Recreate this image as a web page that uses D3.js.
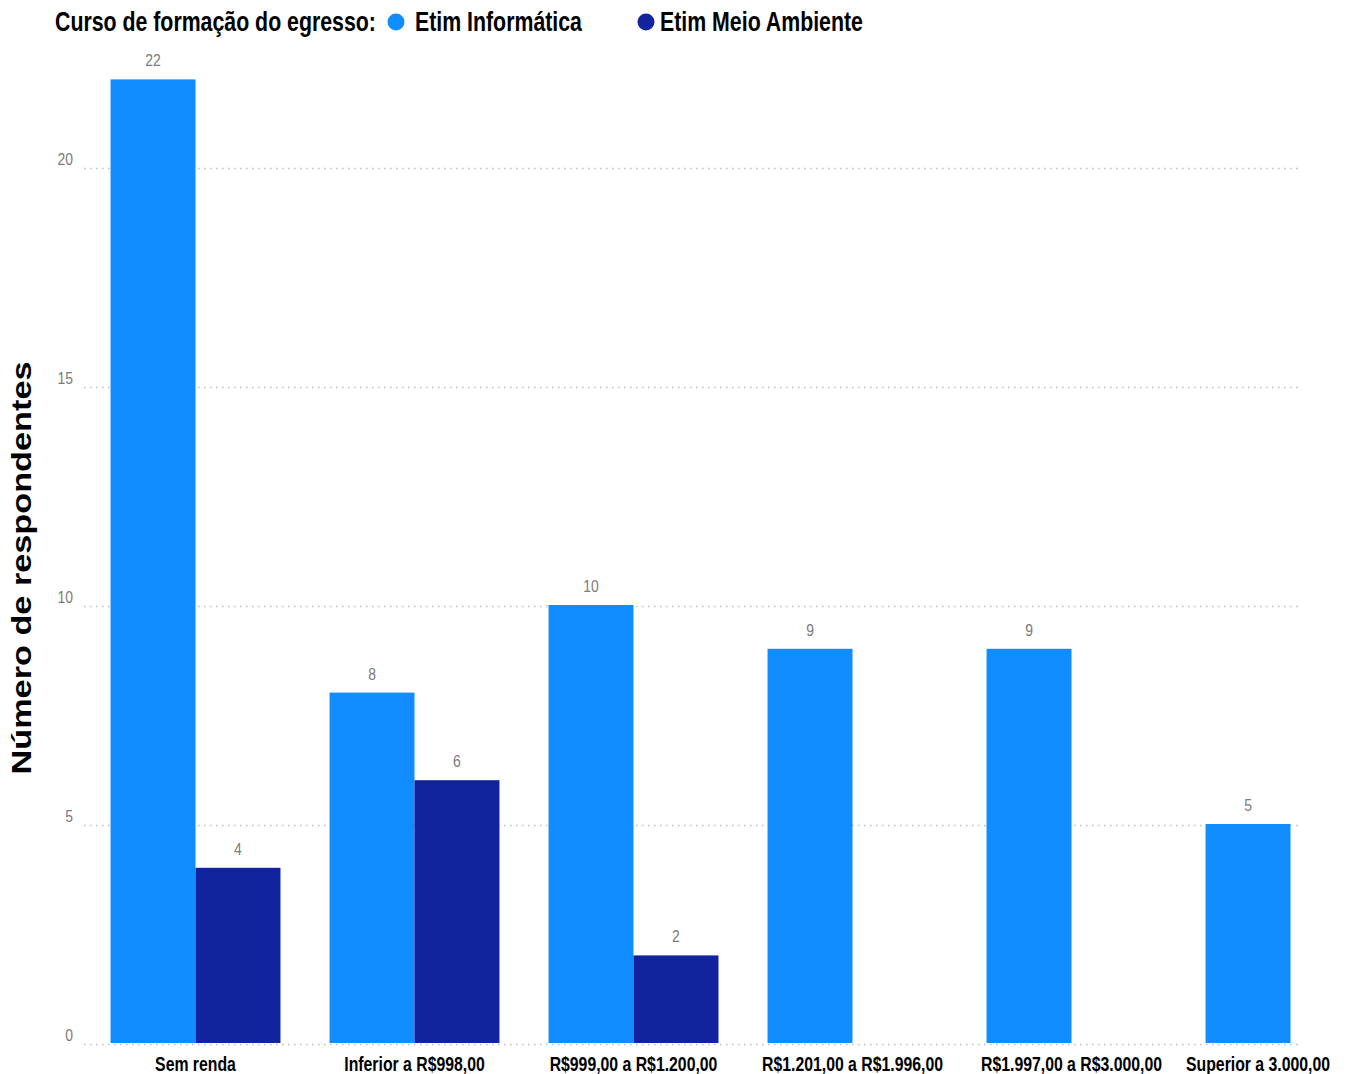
<!DOCTYPE html>
<html>
<head>
<meta charset="utf-8">
<script src="https://cdn.jsdelivr.net/npm/d3@7"></script>
<style>
  body { margin: 0; background: #fff; }
  text { font-family: "Liberation Sans", Arial, sans-serif; }
</style>
</head>
<body>
<svg id="chart"></svg>
<script>
let svgW = 1347, svgH = 1074;

// data
let categories = ["Sem renda", "Inferior a R$998,00", "R$999,00 a R$1.200,00",
    "R$1.201,00 a R$1.996,00", "R$1.997,00 a R$3.000,00", "Superior a 3.000,00"];
let series = ["Etim Informática", "Etim Meio Ambiente"];
let informatica = [22, 8, 10, 9, 9, 5];
let meioAmbiente = [4, 6, 2, null, null, null];
let yTicks = [0, 5, 10, 15, 20];
let colors = ["#118DFF", "#12239E"];

let svg = d3.select("#chart")
    .attr("width", svgW)
    .attr("height", svgH)

let xScale = d3.scaleBand()
    .domain(categories)
    .range([86, 1400])
    .paddingInner(0.224)
    .paddingOuter(0.112)

let xSub = d3.scaleBand()
    .domain(series)
    .range([0, xScale.bandwidth()])

let yScale = d3.scaleLinear()
    .domain([0, 10])
    .range([1043, 605])

//gridlines
svg.append("g")
    .selectAll("line")
    .data(yTicks)
    .enter()
    .append("line")
    .attr("x1", 84)
    .attr("x2", 1298)
    .attr("y1", d => yScale(d) + 1.5)
    .attr("y2", d => yScale(d) + 1.5)
    .attr("stroke", "#bdbdbd")
    .attr("stroke-width", 1.3)
    .attr("stroke-dasharray", "1.5,4.5")

let yAxis = d3.axisLeft(yScale)
    .tickValues(yTicks)
    .tickSize(0)
    .tickPadding(0)

let yG = svg.append("g")
    .attr("transform", "translate(73,0)")
    .call(yAxis)
yG.select(".domain").remove()
yG.selectAll("text")
    .attr("fill", "#7a7a7a")
    .attr("font-size", 17)
    .attr("font-family", "Liberation Sans, Arial, sans-serif")
    .attr("dy", "-0.15em")
    .attr("transform", "scale(0.82,1)")

let rows = categories.map((c, i) => ({cat: c, vals: [informatica[i], meioAmbiente[i]]}))

let groups = svg.selectAll(".grp")
    .data(rows)
    .enter()
    .append("g")
    .attr("class", "grp")
    .attr("transform", d => "translate(" + xScale(d.cat) + ",0)")

let bars = groups.selectAll("g.bar")
    .data(d => d.vals.map((v, j) => ({s: series[j], v: v, j: j})).filter(e => e.v != null))
    .enter()
    .append("g")
    .attr("class", "bar")

bars.append("rect")
    .attr("x", d => xSub(d.s))
    .attr("y", d => yScale(d.v))
    .attr("width", xSub.bandwidth())
    .attr("height", d => yScale(0) - yScale(d.v))
    .attr("fill", d => colors[d.j])

bars.append("text")
    .attr("transform", d => "translate(" + (xSub(d.s) + xSub.bandwidth() / 2) + "," + (yScale(d.v) - 13) + ") scale(0.82,1)")
    .attr("text-anchor", "middle")
    .attr("fill", "#7a7a7a")
    .attr("font-size", 17)
    .text(d => d.v)

// x axis labels
let xAxis = d3.axisBottom(xScale)
    .tickSize(0)
    .tickPadding(0)

let xG = svg.append("g")
    .attr("transform", "translate(0,1052)")
    .call(xAxis)
xG.select(".domain").remove()
xG.selectAll("text")
    .attr("fill", "#000")
    .attr("font-weight", "bold")
    .attr("font-size", 20)
    .attr("font-family", "Liberation Sans, Arial, sans-serif")
    .attr("dy", "0.95em")
    .attr("transform", "scale(0.79,1)")
    .each(function () {
        let r = this.getBoundingClientRect()
        if (r.right > 1330) d3.select(this).attr("x", (1330 - r.right) / 0.79)
    })

// y title
svg.append("text")
    .attr("transform", "translate(31,568) rotate(-90)")
    .attr("text-anchor", "middle")
    .attr("font-weight", "bold")
    .attr("font-size", 28)
    .attr("fill", "#000")
    .attr("textLength", 413)
    .attr("lengthAdjust", "spacingAndGlyphs")
    .text("Número de respondentes")

// legend, each text squeezed to the width it has in the reference
function legendText(x, w, s) {
    let t = legend.append("text")
        .attr("font-weight", "bold")
        .attr("font-size", 28)
        .text(s)
    let nat = t.node().getComputedTextLength()
    t.attr("transform", "translate(" + x + ",31) scale(" + (w / nat) + ",1)")
}

let legend = svg.append("g")
legendText(55, 321, "Curso de formação do egresso:")

let legendX = [396, 646]
let legendW = [167, 203]
series.forEach(function (s, i) {
    legend.append("circle")
        .attr("cx", legendX[i])
        .attr("cy", 22)
        .attr("r", 8.5)
        .attr("fill", colors[i])
    legendText(legendX[i] + 19 - (i ? 5 : 0), legendW[i], s)
})
</script>
</body>
</html>
